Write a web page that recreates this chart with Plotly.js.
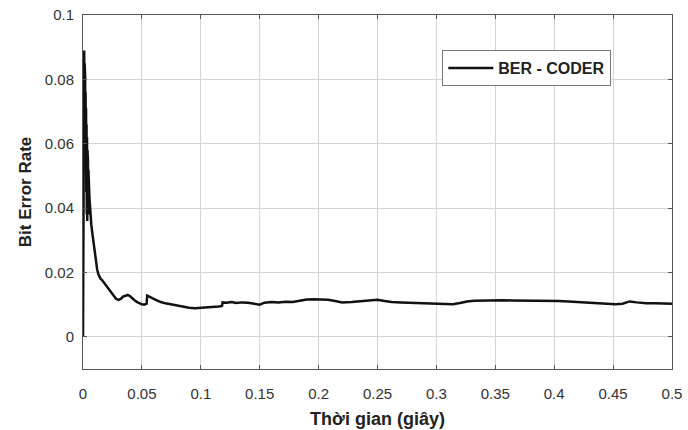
<!DOCTYPE html>
<html>
<head>
<meta charset="utf-8">
<script src="https://cdn.plot.ly/plotly-3.0.1.min.js"></script>
<style>html,body{margin:0;padding:0;background:#fff;}#chart{width:688px;height:430px;}</style>
</head>
<body>
<div id="chart"></div>
<script>
// Time (s)
const timeSec = [0, 0.0002, 0.0004, 0.0006, 0.0008, 0.001, 0.0012, 0.0014, 0.0016, 0.0018, 0.002, 0.0022, 0.0024, 0.0026, 0.0028, 0.003, 0.0032, 0.0034, 0.0036, 0.0038, 0.004, 0.0042, 0.0044, 0.0046, 0.0048, 0.005, 0.0055, 0.006,
  0.007, 0.008, 0.009, 0.010, 0.011, 0.012, 0.013, 0.014, 0.015, 0.016, 0.017, 0.018, 0.019, 0.020, 0.022, 0.024, 0.026, 0.028, 0.030, 0.032, 0.034, 0.036, 0.038, 0.040, 0.042, 0.044, 0.046, 0.048, 0.050, 0.052, 0.054, 0.0545, 0.056, 0.058, 0.060, 0.063, 0.066, 0.070, 0.074, 0.078, 0.082, 0.086, 0.090, 0.095, 0.100, 0.105, 0.110, 0.115, 0.118, 0.1185, 0.122, 0.126, 0.130, 0.135, 0.140, 0.145, 0.150, 0.154, 0.160, 0.166, 0.172, 0.178, 0.184, 0.190, 0.196, 0.202, 0.208, 0.214, 0.220, 0.228, 0.236, 0.244, 0.250, 0.256, 0.262, 0.270, 0.280, 0.290, 0.298, 0.306, 0.314, 0.320, 0.326, 0.332, 0.340, 0.348, 0.356, 0.364, 0.372, 0.380, 0.388, 0.396, 0.404, 0.412, 0.420, 0.428, 0.436, 0.444, 0.452, 0.458, 0.464, 0.470, 0.478, 0.486, 0.494, 0.500];
// Bit error rate
const berCoder = [0, 0.031, 0.05, 0.072, 0.083, 0.089, 0.062, 0.085, 0.07, 0.081, 0.058, 0.076, 0.052, 0.071, 0.045, 0.066, 0.038, 0.062, 0.036, 0.058, 0.04, 0.055, 0.038, 0.052, 0.041, 0.048, 0.043, 0.039,
  0.035, 0.032, 0.029, 0.026, 0.023, 0.021, 0.0195, 0.0185, 0.018, 0.0177, 0.0172, 0.0168, 0.0162, 0.0155, 0.0145, 0.0135, 0.0125, 0.0118, 0.0115, 0.0118, 0.0125, 0.0128, 0.013, 0.0126, 0.0118, 0.0113, 0.0108, 0.0104, 0.0101, 0.0100, 0.0103, 0.0128, 0.0126, 0.0122, 0.0118, 0.0113, 0.0108, 0.0104, 0.0101, 0.0098, 0.0095, 0.0092, 0.0090, 0.0089, 0.0090, 0.0091, 0.0092, 0.0094, 0.0096, 0.0107, 0.0106, 0.0108, 0.0105, 0.0107, 0.0106, 0.0104, 0.0100, 0.0106, 0.0108, 0.0107, 0.0109, 0.0108, 0.0112, 0.0116, 0.0117, 0.0117, 0.0115, 0.0111, 0.0107, 0.0108, 0.0110, 0.0112, 0.0115, 0.0111, 0.0108, 0.0107, 0.0106, 0.0105, 0.0104, 0.0102, 0.0101, 0.0105, 0.0110, 0.0112, 0.0113, 0.0114, 0.0114, 0.0113, 0.0113, 0.0112, 0.0112, 0.0112, 0.0111, 0.0110, 0.0108, 0.0107, 0.0105, 0.0104, 0.0101, 0.0103, 0.0110, 0.0107, 0.0104, 0.0104, 0.0103, 0.0103];

const seriesName = 'BER - CODER';
const xTickVals = [0, 0.05, 0.1, 0.15, 0.2, 0.25, 0.3, 0.35, 0.4, 0.45, 0.5];
const xTickText = ['0', '0.05', '0.1', '0.15', '0.2', '0.25', '0.3', '0.35', '0.4', '0.45', '0.5'];
const yTickVals = [0, 0.02, 0.04, 0.06, 0.08, 0.1];
const yTickText = ['0', '0.02', '0.04', '0.06', '0.08', '0.1'];
const xTitle = 'Thời gian (giây)';
const yTitle = 'Bit Error Rate';

const font = 'Liberation Sans, Arial, sans-serif';

const trace = {
  x: timeSec, y: berCoder, type: 'scatter', mode: 'lines', name: seriesName,
  line: {color: '#111', width: 2.5}, showlegend: true
};

const axisCommon = {
  showline: true, mirror: 'ticks', linecolor: '#555', linewidth: 1,
  showgrid: true, gridcolor: '#d4d4d4', gridwidth: 1,
  ticks: 'inside', ticklen: 4, tickcolor: '#555',
  zeroline: false, automargin: false,
  tickfont: {family: font, size: 15, color: '#333'}
};

const layout = {
  width: 688, height: 430,
  margin: {l: 83, r: 16, t: 15, b: 61},
  paper_bgcolor: '#fff', plot_bgcolor: '#fff',
  showlegend: true,
  legend: {
    x: 0.610, y: 0.901, xanchor: 'left', yanchor: 'top',
    bordercolor: '#777', borderwidth: 1, bgcolor: '#fff',
    font: {family: font, size: 16, color: '#222', weight: 'bold'},
    itemwidth: 45, tracegroupgap: 0
  },
  xaxis: Object.assign({}, axisCommon, {
    range: [0, 0.5], tickmode: 'array', tickvals: xTickVals, ticktext: xTickText,
    ticklabelstandoff: 11,
    title: {text: xTitle, font: {family: font, size: 18, color: '#222', weight: 'bold'}, standoff: 11}
  }),
  yaxis: Object.assign({}, axisCommon, {
    range: [-0.01, 0.1], tickmode: 'array', tickvals: yTickVals, ticktext: yTickText,
    ticklabelstandoff: 5,
    title: {text: yTitle, font: {family: font, size: 17, color: '#222', weight: 'bold'}, standoff: 8}
  })
};

Plotly.newPlot('chart', [trace], layout, {displayModeBar: false, staticPlot: true});
</script>
</body>
</html>
